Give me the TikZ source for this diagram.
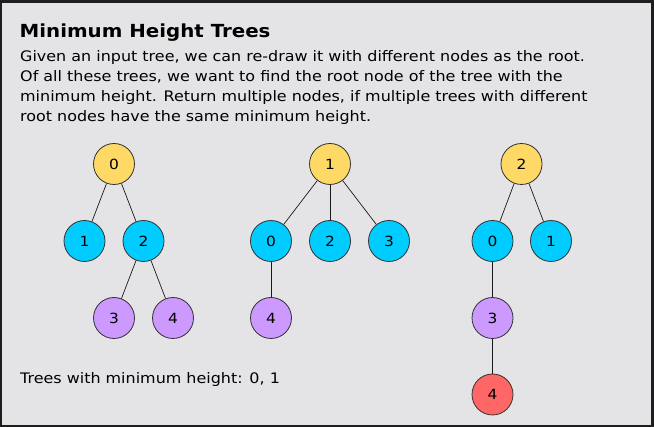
\documentclass[tikz,border=0pt]{standalone}
\usepackage{fontspec}
\setmainfont{DejaVu Sans}[FakeStretch=1.1]
\definecolor{frame}{HTML}{1E1E1E}
\definecolor{panel}{HTML}{E4E4E6}
\definecolor{rootc}{HTML}{FFD966}
\definecolor{levelone}{HTML}{00CCFF}
\definecolor{leveltwo}{HTML}{CC99FF}
\definecolor{levelthree}{HTML}{FF6666}
\begin{document}
\begin{tikzpicture}[x=1pt, y=-1pt,
  vertex/.style={circle, draw=black!80, line width=0.8pt, minimum size=41pt, inner sep=0pt, font=\fontsize{14}{16}\selectfont},
  rootv/.style={vertex, fill=rootc},
  onev/.style={vertex, fill=levelone},
  twov/.style={vertex, fill=leveltwo},
  threev/.style={vertex, fill=levelthree},
  edge/.style={line width=0.7pt, draw=black!90},
  line/.style={anchor=base west, inner sep=0pt, font=\fontsize{14.5}{20}\selectfont}]
\fill[frame] (0,0) rectangle (654,427);
\fill[panel] (2,3) rectangle (651,425);

\node [line, font=\bfseries\fontsize{18}{22}\selectfont] (title) at (19.5, 37.8) {Minimum Height Trees};
\node [line] (d1) at (20, 61.5) {Given an input tree, we can re-draw it with different nodes as the root.};
\node [line] (d2) at (20, 81.5) {Of all these trees, we want to find the root node of the tree with the};
\node [line] (d3) at (20, 101.5) {minimum height. Return multiple nodes, if multiple trees with different};
\node [line] (d4) at (20, 121.5) {root nodes have the same minimum height.};

\node [rootv] (a0) at (114, 164) {0};
\node [onev] (a1) at (84.5, 241) {1};
\node [onev] (a2) at (143.5, 241) {2};
\node [twov] (a3) at (114, 318) {3};
\node [twov] (a4) at (173, 318) {4};

\node [rootv] (b1) at (330, 164) {1};
\node [onev] (b0) at (271, 241) {0};
\node [onev] (b2) at (330, 241) {2};
\node [onev] (b3) at (389, 241) {3};
\node [twov] (b4) at (271, 318) {4};

\node [rootv] (c2) at (521.5, 164) {2};
\node [onev] (c0) at (492.5, 241) {0};
\node [onev] (c1) at (551, 241) {1};
\node [twov] (c3) at (492.5, 318) {3};
\node [threev] (c4) at (492.5, 394.5) {4};

\draw [edge] (a0) -- (a1);
\draw [edge] (a0) -- (a2);
\draw [edge] (a2) -- (a3);
\draw [edge] (a2) -- (a4);

\draw [edge] (b1) -- (b0);
\draw [edge] (b1) -- (b2);
\draw [edge] (b1) -- (b3);
\draw [edge] (b0) -- (b4);

\draw [edge] (c2) -- (c0);
\draw [edge] (c2) -- (c1);
\draw [edge] (c0) -- (c3);
\draw [edge] (c3) -- (c4);

\node [line] (result) at (20, 384) {Trees with minimum height: 0, 1};
\end{tikzpicture}
\end{document}
